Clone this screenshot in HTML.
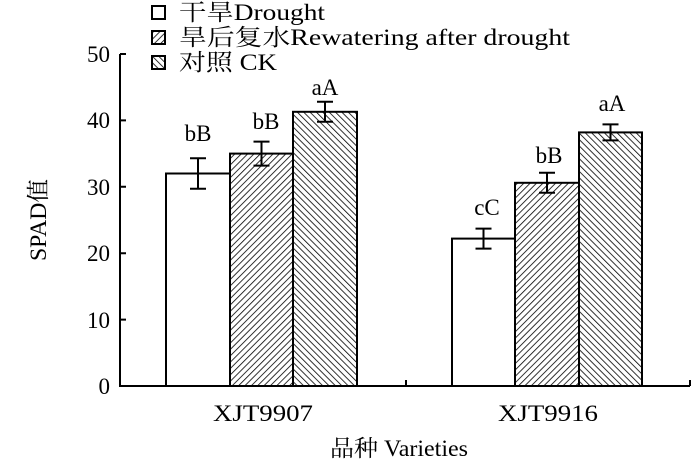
<!DOCTYPE html>
<html><head><meta charset="utf-8"><style>
body{margin:0;background:#fff;}
svg{display:block;font-family:"Liberation Serif","Noto Serif CJK SC",serif;}
</style></head><body>
<svg width="700" height="462" viewBox="0 0 700 462" xmlns="http://www.w3.org/2000/svg">
<defs>
<pattern id="p1" patternUnits="userSpaceOnUse" width="4.5" height="4.5" patternTransform="rotate(45)">
<rect width="4.5" height="4.5" fill="#fff"/><line x1="0" y1="0" x2="0" y2="4.5" stroke="#000" stroke-width="1.6"/></pattern>
<pattern id="p2" patternUnits="userSpaceOnUse" width="4.5" height="4.5" patternTransform="rotate(-45)">
<rect width="4.5" height="4.5" fill="#fff"/><line x1="0" y1="0" x2="0" y2="4.5" stroke="#000" stroke-width="1.6"/></pattern>
</defs>
<g stroke="#000" stroke-width="2" fill="none">
<rect x="166" y="173.5" width="64" height="212.5" fill="#fff"/>
<rect x="230" y="153.6" width="63" height="232.4" fill="url(#p1)"/>
<rect x="293" y="111.8" width="64" height="274.2" fill="url(#p2)"/>
<rect x="452" y="238.6" width="63" height="147.4" fill="#fff"/>
<rect x="515" y="182.8" width="64" height="203.2" fill="url(#p1)"/>
<rect x="579" y="132.4" width="63" height="253.6" fill="url(#p2)"/>
<path d="M120,54V386H690M120,54h6M120,120.4h6M120,186.8h6M120,253.2h6M120,319.6h6M406,386v-6M690,386v-6"/>
<path d="M198,158.2v30.6M190,158.2h16M190,188.8h16"/>
<path d="M261.5,141.6v24M253.5,141.6h16M253.5,165.6h16"/>
<path d="M325,101.8v20M317,101.8h16M317,121.8h16"/>
<path d="M483.5,228.6v20M475.5,228.6h16M475.5,248.6h16"/>
<path d="M547,172.8v20M539,172.8h16M539,192.8h16"/>
<path d="M610.5,124.4v16M602.5,124.4h16M602.5,140.4h16"/>
<rect x="152" y="6" width="13" height="13" fill="#fff"/>
<rect x="152" y="31" width="13" height="13" fill="url(#p1)"/>
<rect x="152" y="56" width="13" height="13" fill="url(#p2)"/>
</g>
<g font-size="23" fill="#000">
<text x="179" y="20" textLength="146" lengthAdjust="spacingAndGlyphs">干旱Drought</text>
<text x="179" y="45" textLength="391" lengthAdjust="spacingAndGlyphs">旱后复水Rewatering after drought</text>
<text x="179" y="70" textLength="98" lengthAdjust="spacingAndGlyphs">对照 CK</text>
<g text-anchor="end"><text x="110" y="62">50</text><text x="110" y="128">40</text><text x="110" y="195">30</text><text x="110" y="261">20</text><text x="110" y="328">10</text><text x="110" y="394">0</text></g>
<g text-anchor="middle">
<text x="198" y="141">bB</text><text x="266" y="129">bB</text><text x="325" y="95">aA</text>
<text x="487" y="215">cC</text><text x="549" y="163">bB</text><text x="612" y="111">aA</text>
<text x="263" y="421" textLength="100" lengthAdjust="spacingAndGlyphs">XJT9907</text>
<text x="548" y="421" textLength="100" lengthAdjust="spacingAndGlyphs">XJT9916</text>
<text x="399" y="456" textLength="138" lengthAdjust="spacingAndGlyphs">品种 Varieties</text>
<text transform="translate(46,220) rotate(-90)" textLength="82" lengthAdjust="spacingAndGlyphs">SPAD值</text>
</g></g>
</svg>
</body></html>
